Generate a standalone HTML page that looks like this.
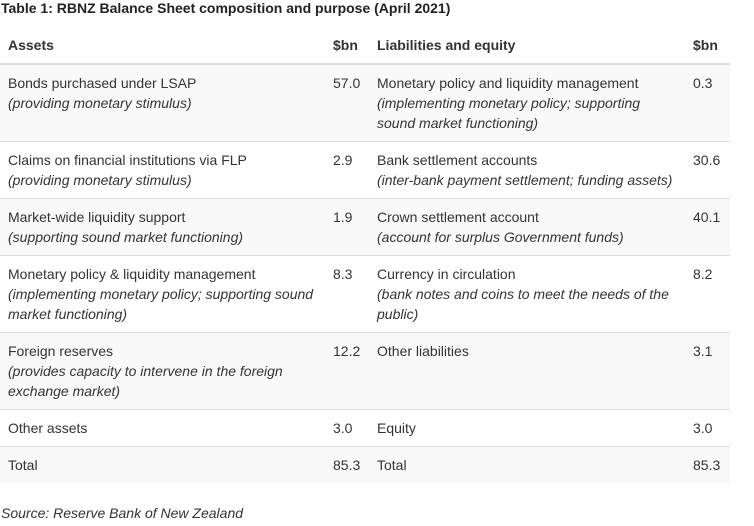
<!DOCTYPE html>
<html><head><style>
body{margin:0;width:754px;height:526px;background:#fff;font-family:"Liberation Sans",Arial,sans-serif;font-size:14px;color:#333;position:relative;overflow:hidden}
.t{position:absolute;left:1px;top:0;font-weight:bold;font-size:14px;color:#222}
.r{position:absolute;left:0;width:730px;border-bottom:1px solid #ddd}
.g{background:#f9f9f9}
.c{position:absolute;line-height:20px;white-space:nowrap}
.a{left:8px}.b{left:333px}.l{left:377px}.v{left:693px}
i{font-style:italic}
.h{font-weight:bold;color:#333}
</style></head><body>
<div class="t">Table 1: RBNZ Balance Sheet composition and purpose (April 2021)</div>
<div class="r" style="top:28px;height:35px;border-bottom:2px solid #ddd"></div>
<div class="c a h" style="top:35px">Assets</div><div class="c b h" style="top:35px">$bn</div><div class="c l h" style="top:35px">Liabilities and equity</div><div class="c v h" style="top:35px">$bn</div>

<div class="r g" style="top:65px;height:76px"></div>
<div class="c a" style="top:73px">Bonds purchased under LSAP<br><i>(providing monetary stimulus)</i></div>
<div class="c b" style="top:73px">57.0</div>
<div class="c l" style="top:73px">Monetary policy and liquidity management<br><i>(implementing monetary policy; supporting<br>sound market functioning)</i></div>
<div class="c v" style="top:73px">0.3</div>

<div class="r" style="top:142px;height:56px"></div>
<div class="c a" style="top:150px">Claims on financial institutions via FLP<br><i>(providing monetary stimulus)</i></div>
<div class="c b" style="top:150px">2.9</div>
<div class="c l" style="top:150px">Bank settlement accounts<br><i>(inter-bank payment settlement; funding assets)</i></div>
<div class="c v" style="top:150px">30.6</div>

<div class="r g" style="top:199px;height:56px"></div>
<div class="c a" style="top:207px">Market-wide liquidity support<br><i>(supporting sound market functioning)</i></div>
<div class="c b" style="top:207px">1.9</div>
<div class="c l" style="top:207px">Crown settlement account<br><i>(account for surplus Government funds)</i></div>
<div class="c v" style="top:207px">40.1</div>

<div class="r" style="top:256px;height:76px"></div>
<div class="c a" style="top:264px">Monetary policy &amp; liquidity management<br><i>(implementing monetary policy; supporting sound<br>market functioning)</i></div>
<div class="c b" style="top:264px">8.3</div>
<div class="c l" style="top:264px">Currency in circulation<br><i>(bank notes and coins to meet the needs of the<br>public)</i></div>
<div class="c v" style="top:264px">8.2</div>

<div class="r g" style="top:333px;height:76px"></div>
<div class="c a" style="top:341px">Foreign reserves<br><i>(provides capacity to intervene in the foreign<br>exchange market)</i></div>
<div class="c b" style="top:341px">12.2</div>
<div class="c l" style="top:341px">Other liabilities</div>
<div class="c v" style="top:341px">3.1</div>

<div class="r" style="top:410px;height:36px"></div>
<div class="c a" style="top:418px">Other assets</div><div class="c b" style="top:418px">3.0</div><div class="c l" style="top:418px">Equity</div><div class="c v" style="top:418px">3.0</div>

<div class="r g" style="top:447px;height:36px;border-bottom:none"></div>
<div class="c a" style="top:455px">Total</div><div class="c b" style="top:455px">85.3</div><div class="c l" style="top:455px">Total</div><div class="c v" style="top:455px">85.3</div>

<div class="c" style="left:1px;top:503px"><i>Source: Reserve Bank of New Zealand</i></div>
</body></html>
